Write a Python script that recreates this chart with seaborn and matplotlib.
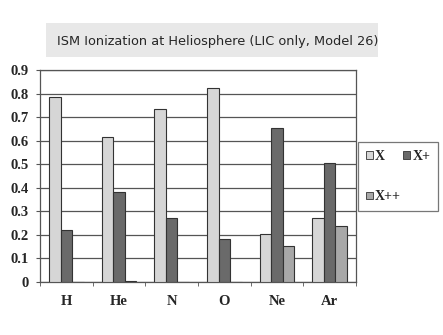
import pandas as pd
import matplotlib
matplotlib.use("Agg")
import matplotlib.pyplot as plt
import seaborn as sns
from matplotlib.patches import Rectangle

# Ion fractions
elements = ["H", "He", "N", "O", "Ne", "Ar"]
neutral = [0.787, 0.617, 0.734, 0.822, 0.204, 0.272]
single = [0.221, 0.383, 0.273, 0.183, 0.652, 0.504]
double = [0.0, 0.003, 0.0, 0.0, 0.154, 0.239]
series = ["X", "X+", "X++"]
colors = ["#d6d6d6", "#6a6a6a", "#a8a8a8"]

df = pd.DataFrame({"element": elements * 3,
                   "state": [s for s in series for _ in elements],
                   "fraction": neutral + single + double})

sns.set_style("white")
fig = plt.figure(figsize=(4.43, 3.35), dpi=100)
ax = fig.add_axes([0.0903, 0.1582, 0.7133, 0.6328])

sns.barplot(data=df, x="element", y="fraction", hue="state", order=elements,
            hue_order=series, palette=colors, width=0.66, gap=0,
            edgecolor="#333333", linewidth=0.8, ax=ax, legend=False, zorder=3)

ax.set_ylim(0, 0.9)
ax.set_xlim(-0.5, 5.5)
ax.set_yticks([i / 10 for i in range(10)])
ax.set_yticklabels(["0"] + [f"0.{i}" for i in range(1, 10)])
ax.yaxis.grid(True, color="#555555", linewidth=0.9, zorder=0)
ax.set_xlabel("")
ax.set_ylabel("")
for s in ax.spines.values():
    s.set_color("#555555")
    s.set_linewidth(0.9)

ax.set_xticks(range(6))
ax.set_xticks([i - 0.5 for i in range(7)], minor=True)
ax.tick_params(axis="x", which="major", length=0, pad=9)
ax.tick_params(axis="x", which="minor", length=3, color="#555555", direction="out", bottom=True)
ax.tick_params(axis="y", length=3, color="#555555", direction="out", left=True, pad=5)
for lab in ax.get_xticklabels() + ax.get_yticklabels():
    lab.set_family("Liberation Serif")
    lab.set_fontweight("bold")
    lab.set_fontsize(10.5)

# title in a grey box
fig.patches.append(Rectangle((46 / 443, 1 - 57 / 335), 332 / 443, 34 / 335,
                             transform=fig.transFigure, facecolor="#e8e8e8",
                             edgecolor="none"))
fig.text(57 / 443, 1 - 41 / 335, "ISM Ionization at Heliosphere (LIC only, Model 26)",
         fontsize=9.25, family="DejaVu Sans", va="center", ha="left")

# legend filled row-wise: X, X+ / X++
order = [0, 2, 1]
handles = [Rectangle((0, 0), 1, 1, facecolor=colors[i], edgecolor="#333333", linewidth=0.6)
           for i in order]
leg = fig.legend(handles, [series[i] for i in order], ncol=2, loc="upper left",
                 bbox_to_anchor=(358 / 443, 1 - 142 / 335),
                 prop={"family": "Liberation Serif", "weight": "bold", "size": 10},
                 frameon=True, fancybox=False, handlelength=0.5, handleheight=0.5,
                 handletextpad=0.15, columnspacing=0.2, labelspacing=2.0,
                 borderpad=0.55, borderaxespad=0)
leg.get_frame().set_edgecolor("#555555")
leg.get_frame().set_linewidth(0.9)

plt.savefig("out.png", dpi=100)
